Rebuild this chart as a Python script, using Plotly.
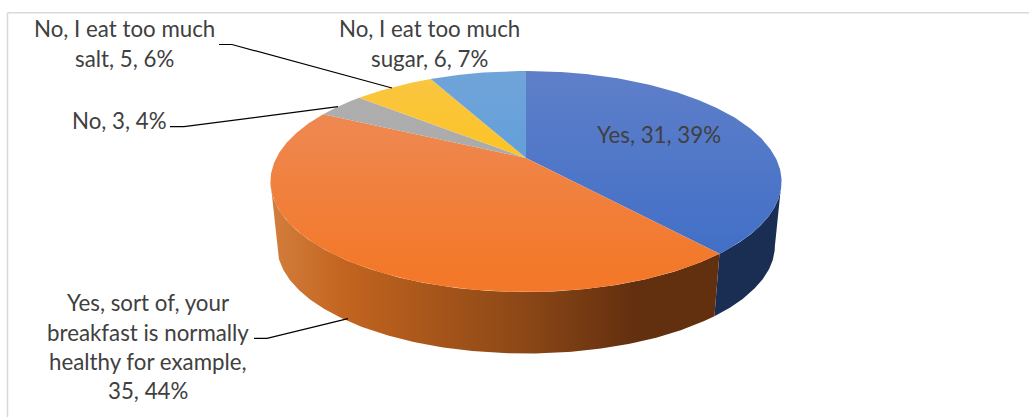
import numpy as np
import plotly.graph_objects as go

# Survey answers, in clockwise order from twelve o'clock
categories = ["Yes", "Yes, sort of", "No", "No, salt", "No, sugar"]
counts = [31, 35, 3, 5, 6]

# Top-face gradients (far edge, near edge) and side-wall gradients (left to right)
top_far = ["#5f7fc9", "#ed8d5d", "#b0b0b0", "#fac643", "#70a4d9"]
top_near = ["#3f6ec7", "#f37829", "#a3a3a3", "#ffc000", "#5399dc"]
wall_stops = [
    [[0, "#1a2e54"], [1, "#1a2e54"]],
    [[0, "#d27c3b"], [0.14, "#c2641f"], [0.5, "#8b4716"], [0.72, "#622f0f"], [1, "#622f0f"]],
    [[0, "#666666"], [1, "#666666"]],
    [[0, "#997300"], [1, "#997300"]],
    [[0, "#2f5f8f"], [1, "#2f5f8f"]],
]

# Label lines: text, centre x, centre y
label_lines = [
    ("No, I eat too much", 124, 28),
    ("salt, 5, 6%", 124, 58),
    ("No, I eat too much", 429, 28),
    ("sugar, 6, 7%", 429, 58),
    ("No, 3, 4%", 119, 120),
    ("Yes, 31, 39%", 659, 134),
    ("Yes, sort of, your", 148, 302),
    ("breakfast is normally", 148, 332),
    ("healthy for example,", 148, 361),
    ("35, 44%", 148, 390),
]

# Leader lines as polylines
leaders = [
    [(219, 44.5), (232, 44.5), (392, 88)],
    [(170, 126.7), (184, 126.7), (338, 106.7)],
    [(254, 338.3), (267, 338.3), (348, 318.7)],
]

# Perspective of the pie disc
CX, TOP_Y, BASE_Y = 526, 158, 223
HALF_W, HALF_H, TILT, BASE_SCALE = 249.7, 105.5, 0.2127, 0.974


def project(theta, base=False):
    """Map disc angles (radians, clockwise from the far edge) to the page."""
    u, v = np.sin(theta), -np.cos(theta)
    w = 1 - TILT * v
    s = BASE_SCALE if base else 1.0
    y0 = BASE_Y if base else TOP_Y
    return CX + s * HALF_W * u / w, y0 + s * HALF_H * v / w


fractions = np.array(counts) / sum(counts)
edges = np.concatenate([[0], np.cumsum(fractions)]) * 2 * np.pi

# Angles where the disc outline is widest: the wall is only visible between them
right_limit = np.arccos(-TILT)
left_limit = 2 * np.pi - right_limit

fig = go.Figure()

# Side walls go first so the top faces sit over them
for i in range(len(counts)):
    start, stop = max(edges[i], right_limit), min(edges[i + 1], left_limit)
    if start >= stop:
        continue
    t = np.linspace(start, stop, 160)
    xt, yt = project(t)
    xb, yb = project(t[::-1], base=True)
    fig.add_trace(go.Scatter(
        x=np.concatenate([xt, xb]), y=np.concatenate([yt, yb]),
        mode="lines", line=dict(width=0), fill="toself",
        fillgradient=dict(type="horizontal", colorscale=wall_stops[i], start=276, stop=776),
        hoverinfo="skip", name=categories[i] + " wall",
    ))

# Top faces share one vertical gradient span across the disc
for i in range(len(counts)):
    t = np.linspace(edges[i], edges[i + 1], 200)
    xt, yt = project(t)
    fig.add_trace(go.Scatter(
        x=np.concatenate([[CX], xt]), y=np.concatenate([[TOP_Y], yt]),
        mode="lines", line=dict(width=0), fill="toself",
        fillgradient=dict(type="vertical", colorscale=[[0, top_far[i]], [1, top_near[i]]],
                          start=71, stop=270),
        hoverinfo="skip", name=categories[i],
    ))

for pts in leaders:
    fig.add_trace(go.Scatter(
        x=[p[0] for p in pts], y=[p[1] for p in pts],
        mode="lines", line=dict(color="#000000", width=1.2), hoverinfo="skip",
    ))

for text, x, y in label_lines:
    fig.add_annotation(
        x=x, y=y, text=text, showarrow=False, xanchor="center", yanchor="middle",
        font=dict(family="Lato, Carlito, sans-serif", size=22.3, color="#404040"),
    )

# Chart frame: only the top and left edges show
frame = dict(type="line", line=dict(color="#d9d9d9", width=1.5), layer="below")
fig.add_shape(x0=7.5, x1=1029, y0=12.7, y1=12.7, **frame)
fig.add_shape(x0=7.5, x1=7.5, y0=12.7, y1=417, **frame)

fig.update_layout(
    width=1029, height=417, autosize=False,
    margin=dict(l=0, r=0, t=0, b=0),
    paper_bgcolor="#ffffff", plot_bgcolor="#ffffff", showlegend=False,
    xaxis=dict(range=[0, 1029], visible=False, fixedrange=True),
    yaxis=dict(range=[417, 0], visible=False, fixedrange=True),
)
fig.write_html("out.html", config=dict(displayModeBar=False))
